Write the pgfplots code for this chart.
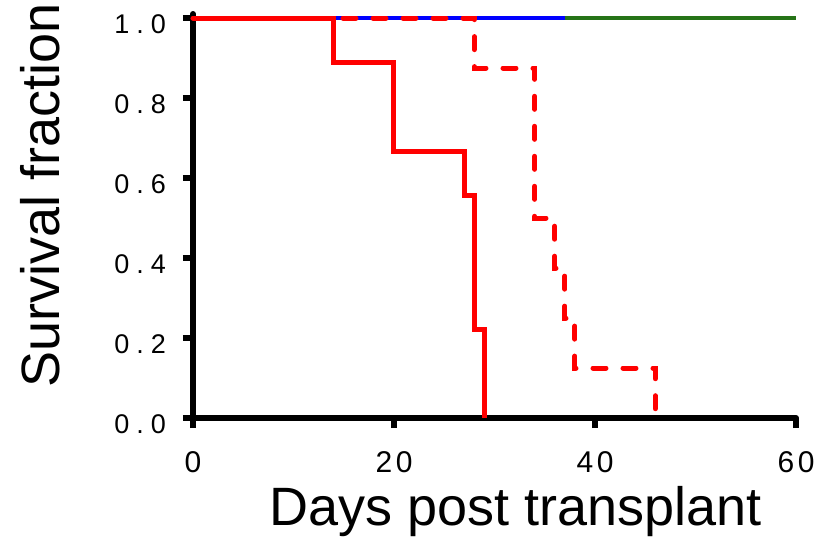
\documentclass[border=0pt]{standalone}
\usepackage{fontspec}
\setmainfont{Liberation Sans}
\usepackage{pgfplots}
\pgfplotsset{compat=1.18}
\definecolor{kmgreen}{RGB}{38,115,23}

\begin{document}
\begin{tikzpicture}[x=1pt,y=1pt]
% page = 820x538 px at 0.5pt per px, origin on the data point (0,0)
\useasboundingbox (-96.5,-60) rectangle (313.5,209);
\begin{axis}[
    at={(0,0)}, anchor=south west,
    scale only axis,
    width=301.5pt, height=202pt,
    xmin=0, xmax=60, ymin=0, ymax=1.01,
    axis lines=left,
    axis line style={-, line width=3pt, line cap=round},
    every tick/.style={black, line width=3pt},
    tick align=outside,
    major tick length=5pt,
    xtick={0,20,40,60},
    ytick={0,0.2,0.4,0.6,0.8,1.0},
    yticklabel={\pgfmathprintnumber[fixed,fixed zerofill,precision=1]{\tick}},
    /pgf/number format/assume math mode=true,
    xticklabel style={font=\fontsize{15}{15}\selectfont\addfontfeature{LetterSpace=12}, yshift=-8pt},
    yticklabel style={font=\fontsize{13.5}{13.5}\selectfont\addfontfeature{LetterSpace=26}, yshift=-3pt, xshift=-5pt},
    xlabel={Days post transplant},
    ylabel={Survival fraction},
    label style={font=\fontsize{27}{27}\selectfont},
    xlabel style={at={(axis description cs:0.535,0)}, anchor=base, yshift=-53.5pt},
    ylabel style={at={(axis description cs:-0.2206,0.55)}, anchor=base},
    clip=false,
]
% censored groups at 100%
\addplot[kmgreen, line width=2pt] coordinates {(0,1) (60,1)};
\addplot[blue, line width=2pt] coordinates {(0,1) (37,1)};
% dashed red group
\addplot[red, line width=2.5pt, const plot, line cap=round, dash pattern=on 6.5pt off 8.5pt] coordinates {
    (0,1) (28,0.875) (34,0.5) (36,0.375) (37,0.25) (38,0.125) (46,0)
};
% solid red group
\addplot[red, line width=2.5pt, const plot] coordinates {
    (0,1) (14,0.889) (20,0.667) (27,0.556) (28,0.222) (29,0)
};
\end{axis}
\end{tikzpicture}
\end{document}
